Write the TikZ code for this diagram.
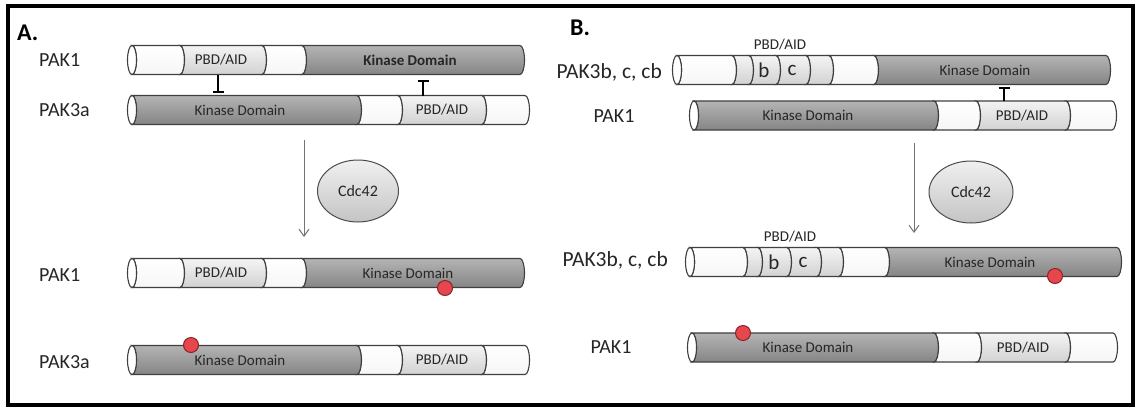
\documentclass[tikz,border=0pt]{standalone}
\usepackage{fontspec}
\setmainfont{Carlito}
\usetikzlibrary{arrows.meta,shapes.geometric}
\definecolor{kinT}{HTML}{B4B4B4}
\definecolor{kinB}{HTML}{858585}
\definecolor{pbdT}{HTML}{F4F4F4}
\definecolor{pbdB}{HTML}{D2D2D2}
\definecolor{whtB}{HTML}{F6F6F6}
\definecolor{cdcT}{HTML}{F0F0F0}
\definecolor{cdcB}{HTML}{C4C4C4}
\definecolor{phosF}{HTML}{E5474C}
\definecolor{phosD}{HTML}{8E2226}
\definecolor{txt}{HTML}{262626}
\def\hh{14.5}
\def\rx{4.5}
\newcommand\protseg[4]{\path[outl,#4] (#1,{#3+\hh}) -- (#2,{#3+\hh}) arc[start angle=90,end angle=-90,x radius=\rx,y radius=\hh] -- (#1,{#3-\hh}) arc[start angle=-90,end angle=90,x radius=\rx,y radius=\hh] -- cycle;}
\newcommand\protcap[2]{\path[outl,fill=white] (#1,#2) ellipse[x radius=\rx,y radius=\hh];}
\tikzset{
  outl/.style={draw=black!75,line width=1.1pt},
  kin/.style={top color=kinT,bottom color=kinB},
  pbd/.style={top color=pbdT,bottom color=pbdB},
  wht/.style={top color=white,bottom color=whtB},
  lbl/.style={font=\fontsize{20}{24}\selectfont,text=txt,inner sep=0pt},
  bigl/.style={font=\fontsize{21.5}{26}\selectfont,text=txt,inner sep=0pt},
  panel/.style={font=\fontsize{24}{28}\selectfont\bfseries,text=black,inner sep=0pt,anchor=west},
  intxt/.style={font=\fontsize{15}{18}\selectfont,text=txt,inner sep=0pt},
  bctxt/.style={font=\fontsize{21}{25}\selectfont,text=txt,inner sep=0pt},
  phos/.style={circle,minimum size=15pt,inner sep=0pt,fill=phosF,draw=phosD,line width=1pt},
  inhib/.style={line width=2pt,draw=black,-{Bar[width=11pt,line width=2.2pt]}},
  flow/.style={draw=black!55,line width=1pt,-{Straight Barb[length=7pt,width=10pt]}},
  cdc/.style={ellipse,minimum width=81pt,minimum height=62pt,inner sep=0pt,top color=cdcT,bottom color=cdcB,draw=black!70,line width=1pt,font=\fontsize{16}{19}\selectfont,text=txt}
}
\begin{document}
\begin{tikzpicture}[x=1pt,y=1pt]
\useasboundingbox (0,0) rectangle (1135,-408);
\fill[white] (0,0) rectangle (1135,-408);
\draw[line width=3.5pt,black] (8,-6) rectangle (1133,-405);

% ---------------- Panel A ----------------
\node[panel] (pA) at (17,-33) {A.};
\node[lbl,anchor=west] (lA1) at (39,-60) {PAK1};
\node[lbl,anchor=west] (lA2) at (39,-110) {PAK3a};
\node[lbl,anchor=west] (lA3) at (39,-275) {PAK1};
\node[lbl,anchor=west] (lA4) at (39,-362) {PAK3a};

% bar A1 : PAK1
\protseg{132}{180}{-60}{wht}
\protseg{180}{262}{-60}{pbd}
\protseg{262}{302}{-60}{wht}
\protseg{302}{520}{-60}{kin}
\protcap{132}{-60}
\node[intxt] (tA1p) at (221,-60) {PBD/AID};
\node[intxt,font=\fontsize{15}{18}\selectfont\bfseries] (tA1k) at (410,-60) {Kinase Domain};

% bar A2 : PAK3a
\protseg{132}{357}{-110}{kin}
\protseg{357}{398}{-110}{wht}
\protseg{398}{482}{-110}{pbd}
\protseg{482}{525}{-110}{wht}
\protcap{132}{-110}
\node[intxt] (tA2k) at (240,-110) {Kinase Domain};
\node[intxt] (tA2p) at (442,-110) {PBD/AID};

% inhibitions A
\coordinate (iA1s) at (218,-75);
\coordinate (iA1e) at (218,-93);
\coordinate (iA2s) at (423,-95.5);
\coordinate (iA2e) at (423,-80);
\draw[inhib] (iA1s) -- (iA1e);
\draw[inhib] (iA2s) -- (iA2e);

% activation A
\coordinate (aAs) at (304,-140);
\coordinate (aAe) at (304,-237);
\draw[flow] (aAs) -- (aAe);
\node[cdc] (cA) at (358,-191) {Cdc42};

% bar A3 : PAK1 active
\protseg{132}{180}{-273}{wht}
\protseg{180}{262}{-273}{pbd}
\protseg{262}{302}{-273}{wht}
\protseg{302}{520}{-273}{kin}
\protcap{132}{-273}
\node[intxt] (tA3p) at (221,-273) {PBD/AID};
\node[intxt] (tA3k) at (408,-273) {Kinase Domain};
\node[phos] (pA3) at (445,-288) {};

% bar A4 : PAK3a active
\protseg{132}{357}{-360}{kin}
\protseg{357}{398}{-360}{wht}
\protseg{398}{482}{-360}{pbd}
\protseg{482}{525}{-360}{wht}
\protcap{132}{-360}
\node[intxt] (tA4k) at (240,-360) {Kinase Domain};
\node[intxt] (tA4p) at (442,-360) {PBD/AID};
\node[phos] (pA4) at (191,-345) {};

% ---------------- Panel B ----------------
\node[panel] (pB) at (570,-28) {B.};
\node[bigl,anchor=east] (lB1) at (662,-72) {PAK3b, c, cb};
\node[lbl] (lB2) at (614,-116) {PAK1};
\node[bigl,anchor=east] (lB3) at (668,-260) {PAK3b, c, cb};
\node[lbl] (lB4) at (611,-347) {PAK1};

% bar B1 : PAK3b
\node[intxt] (tB1h) at (780,-45) {PBD/AID};
\protseg{677}{732}{-70}{wht}
\protseg{732}{749}{-70}{pbd}
\protseg{749}{776}{-70}{pbd}
\protseg{776}{806}{-70}{pbd}
\protseg{806}{829}{-70}{pbd}
\protseg{829}{874}{-70}{wht}
\protseg{874}{1106}{-70}{kin}
\protcap{677}{-70}
\node[bctxt] (tB1b) at (764,-70) {b};
\node[bctxt] (tB1c) at (792,-70) {c};
\node[intxt] (tB1k) at (985,-70) {Kinase Domain};

% bar B2 : PAK1
\protseg{694}{934}{-115.5}{kin}
\protseg{934}{976}{-115.5}{wht}
\protseg{976}{1066}{-115.5}{pbd}
\protseg{1066}{1112}{-115.5}{wht}
\protcap{694}{-115.5}
\node[intxt] (tB2k) at (808,-115.5) {Kinase Domain};
\node[intxt] (tB2p) at (1022,-115.5) {PBD/AID};

% inhibition B
\coordinate (iBs) at (1004,-101);
\coordinate (iBe) at (1004,-87);
\draw[inhib] (iBs) -- (iBe);

% activation B
\coordinate (aBs) at (914,-143);
\coordinate (aBe) at (914,-233);
\draw[flow] (aBs) -- (aBe);
\node[cdc,minimum width=84pt] (cB) at (971,-192) {Cdc42};

% bar B3 : PAK3b active
\node[intxt] (tB3h) at (790,-237) {PBD/AID};
\protseg{690}{743}{-262}{wht}
\protseg{743}{758}{-262}{pbd}
\protseg{758}{787}{-262}{pbd}
\protseg{787}{817}{-262}{pbd}
\protseg{817}{839}{-262}{pbd}
\protseg{839}{885}{-262}{wht}
\protseg{885}{1117}{-262}{kin}
\protcap{690}{-262}
\node[bctxt] (tB3b) at (774,-262) {b};
\node[bctxt] (tB3c) at (803,-262) {c};
\node[intxt] (tB3k) at (990,-262) {Kinase Domain};
\node[phos] (pB3) at (1055,-276) {};

% bar B4 : PAK1 active
\protseg{692}{934}{-347.5}{kin}
\protseg{934}{977}{-347.5}{wht}
\protseg{977}{1066}{-347.5}{pbd}
\protseg{1066}{1113}{-347.5}{wht}
\protcap{692}{-347.5}
\node[intxt] (tB4k) at (808,-347.5) {Kinase Domain};
\node[intxt] (tB4p) at (1023,-347.5) {PBD/AID};
\node[phos] (pB4) at (743,-333) {};
\end{tikzpicture}
\end{document}
